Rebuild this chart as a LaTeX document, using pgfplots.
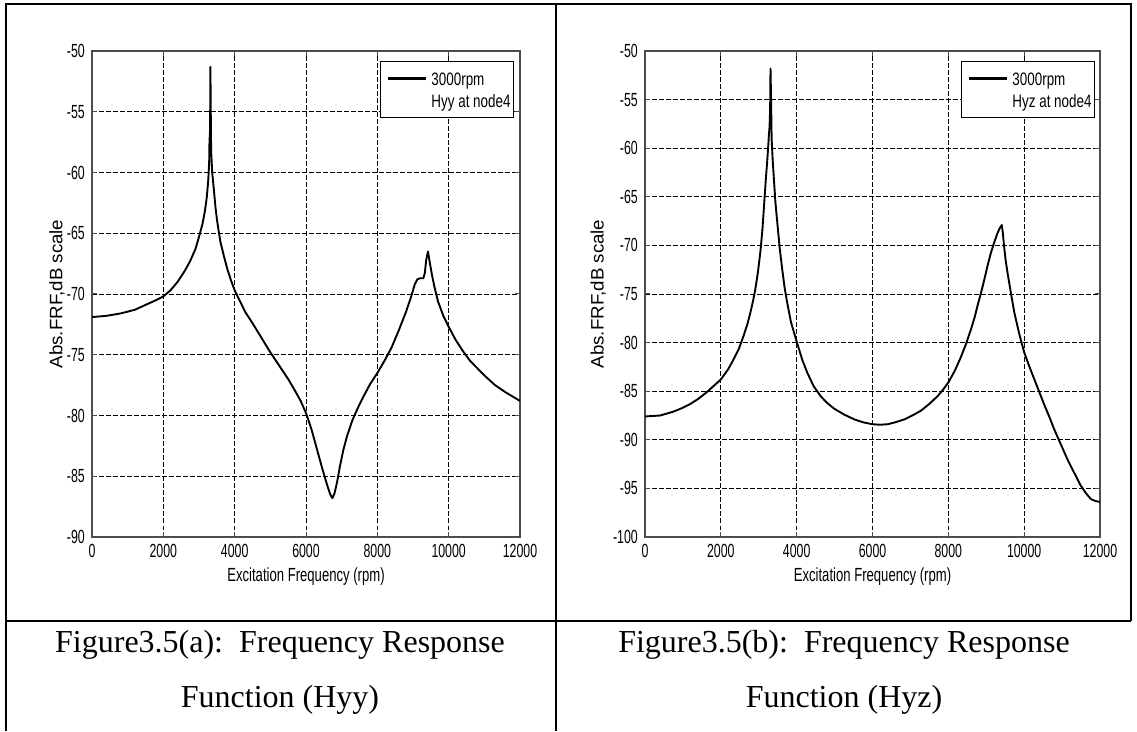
\documentclass[border=0pt]{standalone}
\usepackage{pgfplots}
\pgfplotsset{compat=1.18}
\usepackage{pgfplotstable}
\usepackage{fontspec}
\setmainfont{Liberation Serif}
\newfontfamily\tfam[FakeStretch=0.65]{Liberation Sans}
\newfontfamily\xfam[FakeStretch=0.69]{Liberation Sans}
\newfontfamily\lfam[FakeStretch=0.745]{Liberation Sans}
\newfontfamily\yfam[FakeStretch=1.04]{Liberation Sans}
\newcommand\tf{\tfam\fontsize{19}{19}\selectfont}
\newcommand\xf{\xfam\fontsize{19}{19}\selectfont}
\newcommand\lf{\lfam\fontsize{18}{22}\selectfont}
\newcommand\yf{\yfam\fontsize{18}{18}\selectfont}
% legend box content: line sample + two text lines
\newcommand\legbox[2]{{\lf\begin{tabular}{@{\hspace{8pt}}l@{\hspace{5pt}}l@{\hspace{3pt}}}
\rule{0pt}{20.5pt}\rule[5.5pt]{38pt}{3pt} & #1\\
 & #2
\end{tabular}}}

\pgfplotstableread{
rpm db
0 -71.9
400 -71.8
800 -71.6
1200 -71.3
1500 -70.9
1800 -70.5
2000 -70.2
2200 -69.7
2400 -69.0
2600 -68.1
2750 -67.3
2900 -66.3
3000 -65.3
3100 -64.2
3170 -63.1
3220 -62.0
3260 -60.6
3285 -59.2
3295 -57.2
3305 -57.0
3312 -56.0
3320 -51.3
3330 -55.0
3340 -58.2
3370 -60.0
3410 -61.2
3460 -62.8
3500 -63.8
3550 -64.8
3600 -65.7
3700 -66.9
3800 -68.0
3900 -68.9
4000 -69.7
4150 -70.6
4300 -71.5
4500 -72.4
4750 -73.6
5000 -74.8
5250 -75.9
5500 -77.0
5700 -78.0
5850 -78.8
6000 -79.8
6150 -81.1
6300 -82.7
6450 -84.3
6580 -85.6
6680 -86.5
6740 -86.8
6800 -86.4
6870 -85.5
6950 -84.2
7050 -82.8
7150 -81.7
7300 -80.4
7450 -79.4
7600 -78.5
7800 -77.4
8000 -76.5
8200 -75.5
8400 -74.4
8600 -73.0
8800 -71.5
8950 -70.2
9050 -69.2
9120 -68.8
9200 -68.7
9290 -68.7
9330 -68.3
9370 -67.2
9420 -66.5
9470 -67.4
9530 -68.4
9600 -69.4
9700 -70.6
9850 -71.8
10000 -72.7
10200 -73.8
10400 -74.7
10600 -75.5
10800 -76.1
11000 -76.7
11300 -77.5
11600 -78.1
12000 -78.8
}\hyy

\pgfplotstableread{
rpm db
0 -87.6
400 -87.5
750 -87.1
1000 -86.7
1200 -86.3
1400 -85.8
1630 -85.1
1800 -84.5
2000 -83.8
2200 -82.7
2340 -81.7
2480 -80.6
2600 -79.3
2700 -78.1
2780 -76.9
2850 -75.7
2910 -74.5
2980 -72.7
3050 -70.4
3100 -68.2
3150 -65.3
3190 -63.0
3220 -61.5
3250 -59.8
3270 -58.5
3285 -57.8
3300 -56.0
3310 -51.8
3325 -55.0
3340 -59.1
3370 -61.4
3400 -63.2
3440 -65.6
3490 -67.7
3550 -70.2
3620 -72.5
3680 -74.3
3750 -75.9
3850 -77.9
4000 -79.9
4150 -81.8
4280 -83.1
4450 -84.5
4630 -85.5
4800 -86.2
4990 -86.8
5250 -87.4
5520 -87.9
5750 -88.2
6000 -88.4
6200 -88.45
6400 -88.4
6600 -88.2
6840 -87.9
7050 -87.5
7280 -87.0
7500 -86.3
7720 -85.5
7850 -84.9
8000 -84.1
8170 -82.9
8330 -81.5
8470 -80.1
8600 -78.6
8700 -77.3
8770 -76.2
8860 -74.9
8950 -73.5
9040 -72.0
9120 -70.8
9200 -69.8
9300 -68.7
9360 -68.2
9410 -67.9
9440 -68.8
9470 -70.1
9510 -71.5
9560 -72.8
9650 -74.9
9740 -76.9
9870 -79.1
10000 -81.0
10130 -82.4
10260 -83.7
10400 -85.1
10530 -86.4
10660 -87.6
10790 -88.9
10970 -90.5
11140 -92.0
11320 -93.4
11490 -94.7
11630 -95.5
11760 -96.1
11880 -96.3
12000 -96.4
}\hyz

\pgfplotsset{
  frf/.style={
    scale only axis,
    height=486pt,
    anchor=south west,
    xmin=0, xmax=12000,
    xtick={0,2000,...,12000},
    scaled x ticks=false, scaled y ticks=false,
    /pgf/number format/assume math mode=true,
    /pgf/number format/1000 sep={},
    grid=major,
    major grid style={dash pattern=on 4.5pt off 2.5pt, line width=0.9pt, black},
    axis line style={line width=1.2pt, draw=black!70},
    tick style={line width=1pt, black!70},
    tick align=inside,
    major tick length=5pt,
    tick label style={font=\tf},
    xticklabel style={anchor=north, inner sep=0pt, yshift=-7pt},
    yticklabel style={anchor=east, inner sep=0pt, xshift=-7pt},
    xlabel={Excitation Frequency (rpm)},
    ylabel={Abs.FRF,dB scale},
    xlabel style={font=\xf, at={(axis description cs:0.5,-0.0823)}, anchor=center},
    ylabel style={font=\yf, anchor=center},
  },
}
\tikzset{legnode/.style={draw=black, line width=1pt, fill=white, anchor=north east,
    inner xsep=0pt, inner ysep=3.5pt}}

\begin{document}
\begin{tikzpicture}[x=1pt,y=1pt]
\useasboundingbox (0,0) rectangle (1137,731);

% table lines
\draw[line width=2pt] (6,0) -- (6,727) -- (1131,727) -- (1131,110);
\draw[line width=2pt] (556,0) -- (556,727);
\draw[line width=2pt] (6,110) -- (1131,110);

\begin{axis}[frf, at={(92pt,194pt)}, width=428pt,
  ymin=-90, ymax=-50, ytick={-90,-85,...,-50},
  ylabel style={at={(axis description cs:-0.0818,0.5)}}]
\addplot[black, line width=1.9pt, line join=round] table[x=rpm,y=db] {\hyy};
\node[legnode] at (axis description cs:0.986,0.979) {\legbox{3000rpm}{Hyy at node4}};
\end{axis}

\begin{axis}[frf, at={(645pt,194pt)}, width=455pt,
  ymin=-100, ymax=-50, ytick={-100,-95,...,-50},
  ylabel style={at={(axis description cs:-0.103,0.5)}}]
\addplot[black, line width=1.9pt, line join=round] table[x=rpm,y=db] {\hyz};
\node[legnode] at (axis description cs:0.989,0.979) {\legbox{3000rpm}{Hyz at node4}};
\end{axis}

\node[anchor=base, font=\fontsize{32}{32}\selectfont] at (280,79) {Figure3.5(a):\hspace{0.5em}Frequency Response};
\node[anchor=base, font=\fontsize{32}{32}\selectfont] at (280,24) {Function (Hyy)};
\node[anchor=base, font=\fontsize{32}{32}\selectfont] at (844,79) {Figure3.5(b):\hspace{0.5em}Frequency Response};
\node[anchor=base, font=\fontsize{32}{32}\selectfont] at (844,24) {Function (Hyz)};
\end{tikzpicture}
\end{document}
